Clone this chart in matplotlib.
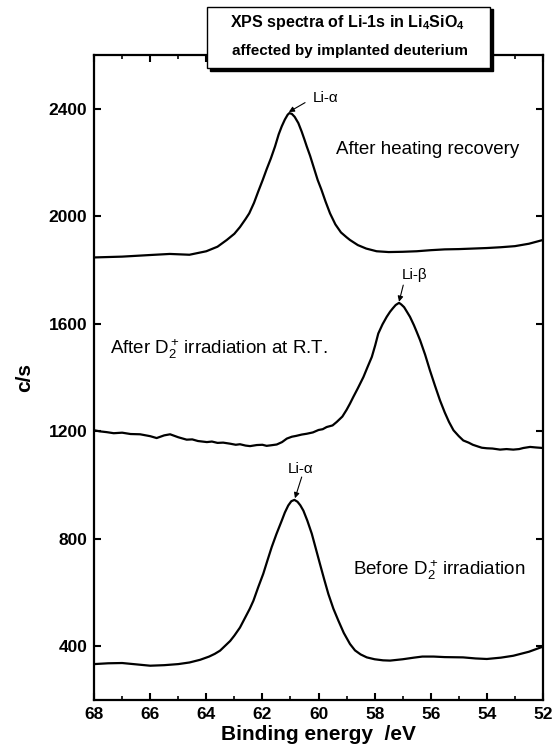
import matplotlib
matplotlib.use("Agg")
import matplotlib.pyplot as plt
from matplotlib.patches import Rectangle

plt.rcParams["font.family"] = ["Liberation Sans", "DejaVu Sans"]
plt.rcParams["mathtext.fontset"] = "custom"
plt.rcParams["mathtext.rm"] = "Liberation Sans"
plt.rcParams["mathtext.it"] = "Liberation Sans:italic"
plt.rcParams["mathtext.bf"] = "Liberation Sans:bold"
plt.rcParams["mathtext.default"] = "regular"

# spectra: binding energy (eV) -> counts per second
heated_ev = [68.0, 67.0, 66.0, 65.3, 64.6, 64.0, 63.6, 63.27, 63.0, 62.8, 62.6,
             62.47, 62.3, 62.15, 61.99, 61.85, 61.7, 61.55, 61.42, 61.31, 61.2,
             61.1, 61.04, 60.95, 60.85, 60.72, 60.6, 60.5, 60.42, 60.3, 60.15,
             60.03, 59.9, 59.75, 59.59, 59.4, 59.2, 59.0, 58.88, 58.6, 58.3,
             57.93, 57.5, 57.0, 56.5, 56.0, 55.5, 55.0, 54.5, 54.0, 53.5, 53.0,
             52.5, 52.0]
heated_cps = [1847, 1850, 1856, 1860, 1857, 1870, 1887, 1912, 1935, 1960, 1990,
              2011, 2050, 2092, 2135, 2175, 2215, 2260, 2305, 2335, 2360,
              2378, 2384, 2381, 2370, 2347, 2315, 2285, 2260, 2225, 2175,
              2135, 2100, 2055, 2011, 1970, 1940, 1922, 1912, 1893, 1880,
              1870, 1867, 1868, 1870, 1874, 1877, 1878, 1880, 1882, 1885, 1889,
              1898, 1912]

irrad_ev = [68.0, 67.8, 67.55, 67.3, 67.0, 66.7, 66.36, 66.0, 65.77, 65.5, 65.29,
            65.0, 64.7, 64.5, 64.3, 63.98, 63.8, 63.6, 63.4, 63.15, 62.95, 62.8,
            62.6, 62.44, 62.2, 62.0, 61.85, 61.7, 61.49, 61.3, 61.13, 60.95, 60.8,
            60.6, 60.42, 60.2, 60.0, 59.85, 59.71, 59.5, 59.35, 59.15, 59.0,
            58.88, 58.76, 58.6, 58.4, 58.25, 58.1, 57.98, 57.87, 57.72, 57.57,
            57.45, 57.35, 57.25, 57.13, 57.05, 56.95, 56.85, 56.74, 56.6, 56.5,
            56.38, 56.2, 56.03, 55.85, 55.67, 55.5, 55.35, 55.19, 55.0, 54.84,
            54.65, 54.5, 54.3, 54.18, 54.0, 53.8, 53.53, 53.3, 53.06, 52.85,
            52.7, 52.46, 52.25, 52.0]
irrad_cps = [1204, 1200, 1197, 1193, 1195, 1190, 1189, 1182, 1175, 1185, 1189,
             1178, 1169, 1170, 1164, 1160, 1162, 1157, 1158, 1154, 1150, 1152,
             1147, 1145, 1149, 1150, 1146, 1148, 1151, 1160, 1173, 1180, 1183,
             1188, 1191, 1196, 1205, 1208, 1216, 1222, 1235, 1255, 1280,
             1303, 1328, 1360, 1402, 1440, 1477, 1520, 1564, 1598, 1626,
             1645, 1658, 1670, 1678, 1672, 1662, 1645, 1626, 1595, 1570,
             1539, 1485, 1427, 1370, 1315, 1270, 1235, 1204, 1182, 1166,
             1158, 1150, 1143, 1139, 1137, 1136, 1132, 1134, 1132, 1134,
             1138, 1142, 1140, 1138]

before_ev = [68.0, 67.5, 67.0, 66.5, 66.0, 65.5, 65.0, 64.6, 64.22, 63.9, 63.7,
             63.51, 63.3, 63.15, 63.0, 62.8, 62.6, 62.45, 62.32, 62.15, 61.97,
             61.82, 61.67, 61.5, 61.31, 61.2, 61.08, 60.97, 60.86, 60.75, 60.65,
             60.54, 60.4, 60.24, 60.1, 59.95, 59.8, 59.65, 59.47, 59.29, 59.1,
             58.88, 58.7, 58.5, 58.28, 58.0, 57.7, 57.45, 57.0, 56.6, 56.3, 55.9,
             55.5, 54.85, 54.4, 54.0, 53.5, 53.06, 52.5, 52.0]
before_cps = [334, 337, 338, 333, 328, 330, 334, 340, 350, 362, 372,
              384, 405, 420, 440, 470, 510, 540, 570, 620, 670,
              720, 769, 818, 868, 898, 924, 940, 945, 938, 925,
              905, 868, 819, 765, 707, 650, 595, 540, 495, 450,
              409, 385, 370, 359, 352, 348, 347, 352, 358, 362, 362,
              360, 359, 355, 353, 358, 365, 380, 399]

y_ticks = [400, 800, 1200, 1600, 2000, 2400]
x_ticks = [68, 66, 64, 62, 60, 58, 56, 54, 52]

fig = plt.figure(figsize=(5.6, 7.52), dpi=100)
ax = fig.add_axes([0.168, 0.069, 0.8016, 0.8578])

for ev, cps in [(heated_ev, heated_cps), (irrad_ev, irrad_cps), (before_ev, before_cps)]:
    ax.plot(ev, cps, color="black", lw=1.6, solid_joinstyle="round")

ax.set_xlim(68, 52)
ax.set_ylim(200, 2600)
ax.set_xticks(x_ticks)
ax.set_xticks(range(52, 69), minor=True)
ax.set_yticks(y_ticks)
ax.tick_params(direction="in", top=True, right=True, width=1.5, length=5,
               labelsize=12.5, pad=5)
ax.tick_params(which="minor", direction="in", top=True, width=1.2, length=3)
for lbl in ax.get_xticklabels() + ax.get_yticklabels():
    lbl.set_fontweight("bold")
for sp in ax.spines.values():
    sp.set_linewidth(1.6)

ax.set_xlabel("Binding energy  /eV", fontsize=15, fontweight="bold", labelpad=2)
ax.set_ylabel("c/s", fontsize=15, fontweight="bold", labelpad=10)

# peak labels with small arrows
arrow = dict(arrowstyle="-|>", color="black", lw=0.8, mutation_scale=8,
             shrinkA=0, shrinkB=0)
ax.annotate("", xy=(61.06, 2388), xytext=(60.48, 2423), arrowprops=arrow)
ax.text(60.2, 2441, "Li-α", fontsize=11, va="center", ha="left")
ax.annotate("", xy=(57.13, 1682), xytext=(56.98, 1744), arrowprops=arrow)
ax.text(57.03, 1781, "Li-β", fontsize=11, va="center", ha="left")
ax.annotate("", xy=(60.84, 951), xytext=(60.6, 1030), arrowprops=arrow)
ax.text(61.09, 1061, "Li-α", fontsize=11, va="center", ha="left")

ax.text(59.38, 2247, "After heating recovery", fontsize=13.5, va="center")
ax.text(67.43, 1505, r"After D$_2^+\,$irradiation at R.T.", fontsize=13.5, va="center")
ax.text(58.77, 682, r"Before D$_2^+\,$irradiation", fontsize=13.5, va="center")

# title box with a drop shadow, sitting over the top spine
W, H = 560.0, 752.0
fig.patches.append(Rectangle((210 / W, 1 - 71 / H), 283 / W, 62 / H,
                             transform=fig.transFigure, facecolor="black",
                             edgecolor="black", zorder=5))
fig.patches.append(Rectangle((207 / W, 1 - 68 / H), 283 / W, 61 / H,
                             transform=fig.transFigure, facecolor="white",
                             edgecolor="black", lw=1.0, zorder=6))
fig.text(347 / W, 1 - 23 / H, r"XPS spectra of Li-1s in Li$_\mathbf{4}$SiO$_\mathbf{4}$",
         fontsize=11.5, fontweight="bold", ha="center", va="center", zorder=7)
fig.text(350 / W, 1 - 51 / H, "affected by implanted deuterium",
         fontsize=11, fontweight="bold", ha="center", va="center", zorder=7)

fig.savefig("out.png", dpi=100)
